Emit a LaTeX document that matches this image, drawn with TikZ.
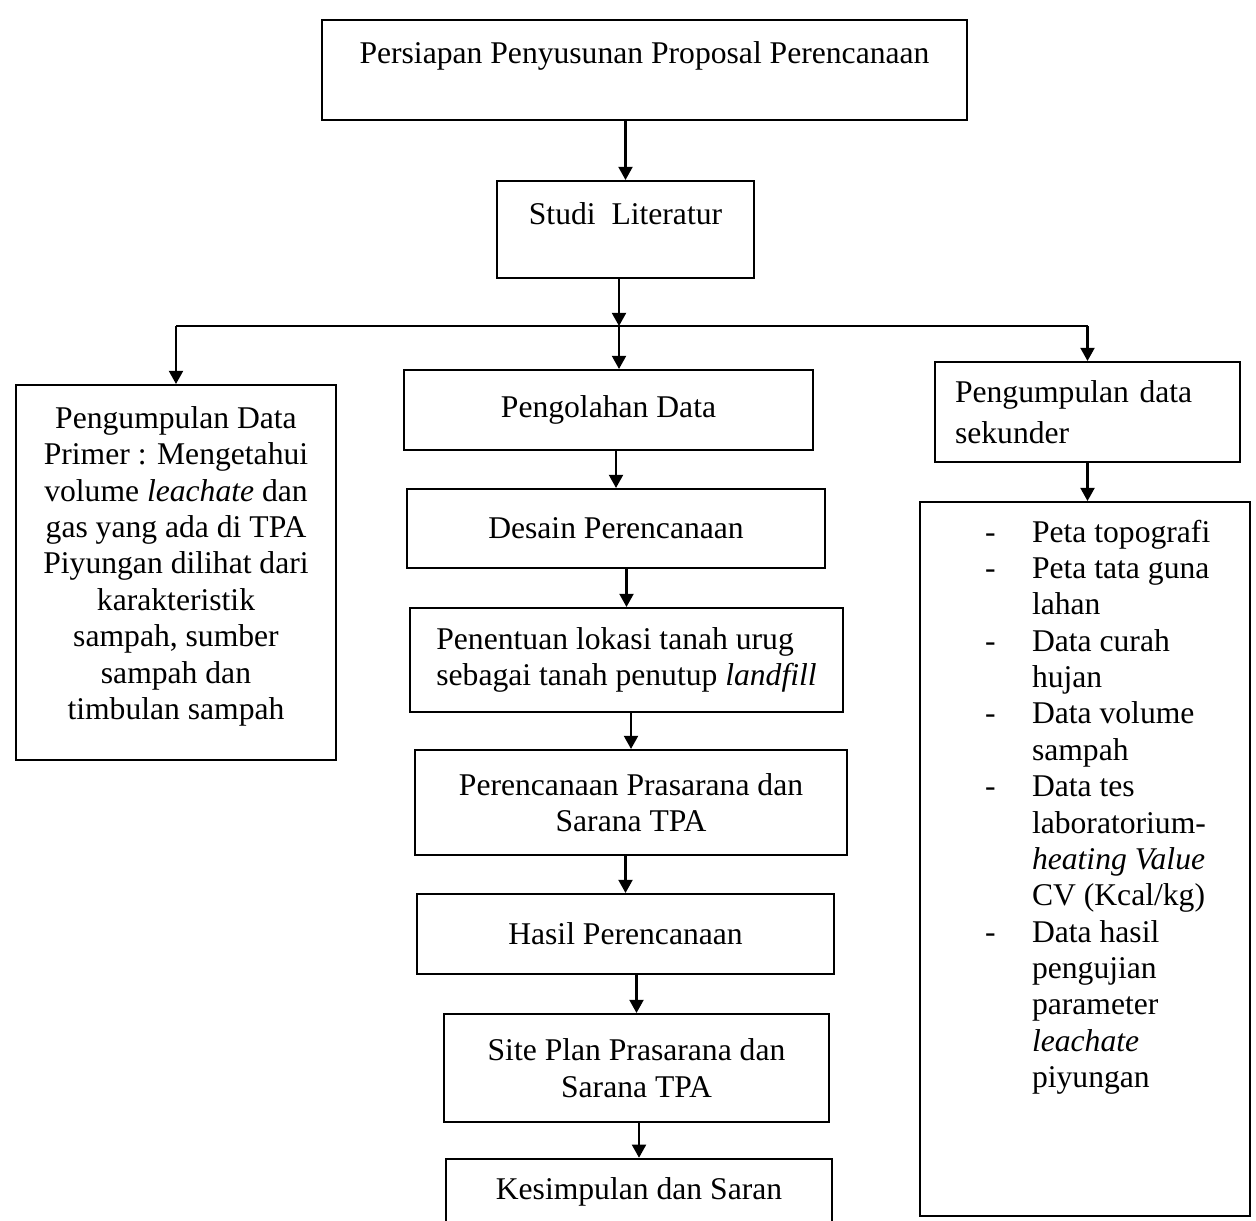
\documentclass[tikz,border=0pt]{standalone}
\usepackage{fontspec}
\setmainfont{Liberation Serif}
\usetikzlibrary{arrows.meta}
\begin{document}
\begin{tikzpicture}[x=0.02cm,y=-0.02cm,
  every node/.style={font=\fontsize{18}{20.7}\selectfont},
  kotak/.style={draw,rectangle,line width=1.2pt,inner sep=0pt},
  panah/.style={line width=1.2pt,-{Triangle[length=7.5pt,width=8pt]}}]
  \useasboundingbox (0,0) rectangle (1256,1220);
  \clip (0,0) rectangle (1256,1220);
  \node[kotak,minimum width=12.9cm,text height=24.5pt,text depth=32.4pt] (proposal) at (644.5,70) {Persiapan Penyusunan Proposal Perencanaan};
  \node[kotak,minimum width=5.14cm,text height=25pt,text depth=30.2pt] (studi) at (625.5,229.5) {Studi\ \ Literatur};
  \node[kotak] (primer) at (176,572.5) {\parbox[c][7.5cm][t]{6.4cm}{\centering\vspace*{12.2pt}Pengumpulan Data\\ Primer : Mengetahui\\ volume \textit{leachate} dan\\ gas yang ada di TPA\\ Piyungan dilihat dari\\ karakteristik\\ sampah, sumber\\ sampah dan\\ timbulan sampah}};
  \node[kotak,minimum width=8.18cm,minimum height=1.6cm] (olah) at (608.5,410) {Pengolahan Data};
  \node[kotak,minimum width=8.36cm,minimum height=1.58cm] (desain) at (616,528.5) {Desain Perencanaan};
  \node[kotak,minimum width=8.66cm,minimum height=2.08cm,align=left] (lokasi) at (626.5,660) {Penentuan lokasi tanah urug\\sebagai tanah penutup \textit{landfill}};
  \node[kotak,minimum width=8.64cm,minimum height=2.1cm,align=center] (prasarana) at (631,802.5) {Perencanaan Prasarana dan\\Sarana TPA};
  \node[kotak,minimum width=8.34cm,minimum height=1.6cm] (hasil) at (625.5,934) {Hasil Perencanaan};
  \node[kotak,minimum width=7.7cm,minimum height=2.16cm,align=center] (siteplan) at (636.5,1068) {Site Plan Prasarana dan\\Sarana TPA};
  \node[kotak,minimum width=7.72cm,text height=23.3pt,text depth=35pt] (simpulan) at (639,1210) {Kesimpulan dan Saran};
  \node[kotak,minimum width=6.1cm,minimum height=2cm,align=left,text width=5.3cm] (sekunder) at (1087.5,412) {Pengumpulan data\\[3pt]sekunder};
  \node[kotak] (daftar) at (1085,859) {\parbox[c][14.28cm][t]{6.6cm}{\vspace*{8.3pt}\hspace*{1.3cm}\begin{tabular}[t]{@{}p{0.94cm}@{}l@{}}
    - & Peta topografi\\
    - & Peta tata guna\\
      & lahan\\
    - & Data curah\\
      & hujan\\
    - & Data volume\\
      & sampah\\
    - & Data tes\\
      & laboratorium-\\
      & \textit{heating Value}\\
      & CV (Kcal/kg)\\
    - & Data hasil\\
      & pengujian\\
      & parameter\\
      & \textit{leachate}\\
      & piyungan
  \end{tabular}}};

  \coordinate (cabang) at (619,326);
  \draw[panah] (proposal.south -| studi.north) -- (studi.north);
  \draw[panah] (studi.south -| cabang) -- (cabang);
  \draw[line width=1.2pt] (primer.north |- cabang) -- (sekunder.north |- cabang);
  \draw[panah] (primer.north |- cabang) -- (primer.north);
  \draw[panah] (cabang) -- (cabang |- olah.north);
  \draw[panah] (sekunder.north |- cabang) -- (sekunder.north);
  \draw[panah] (sekunder.south) -- (sekunder.south |- daftar.north);
  \foreach \dari/\ke in {olah/desain,desain/lokasi,lokasi/prasarana,prasarana/hasil,hasil/siteplan,siteplan/simpulan}
    \draw[panah] (\dari.south -| \ke.north) -- (\ke.north);
\end{tikzpicture}
\end{document}
